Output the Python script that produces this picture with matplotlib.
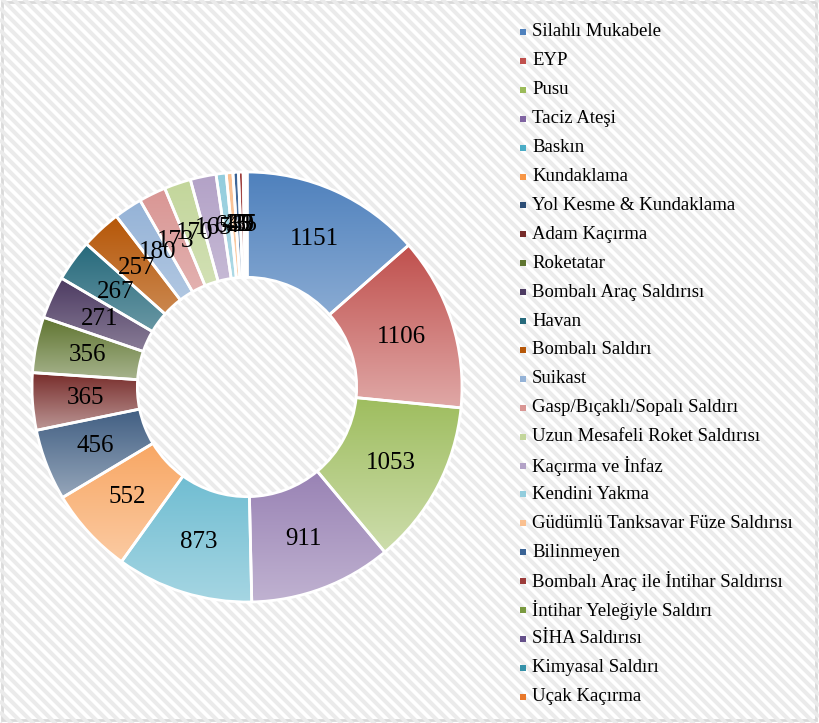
import numpy as np
import matplotlib.pyplot as plt
from matplotlib.patches import Rectangle
from matplotlib.colors import to_rgb

plt.rcParams['font.family'] = ['Liberation Serif', 'DejaVu Serif']

categories = [
    'Silahlı Mukabele', 'EYP', 'Pusu', 'Taciz Ateşi', 'Baskın', 'Kundaklama',
    'Yol Kesme & Kundaklama', 'Adam Kaçırma', 'Roketatar', 'Bombalı Araç Saldırısı',
    'Havan', 'Bombalı Saldırı', 'Suikast', 'Gasp/Bıçaklı/Sopalı Saldırı',
    'Uzun Mesafeli Roket Saldırısı', 'Kaçırma ve İnfaz', 'Kendini Yakma',
    'Güdümlü Tanksavar Füze Saldırısı', 'Bilinmeyen', 'Bombalı Araç ile İntihar Saldırısı',
    'İntihar Yeleğiyle Saldırı', 'SİHA Saldırısı', 'Kimyasal Saldırı', 'Uçak Kaçırma',
]
values = [1151, 1106, 1053, 911, 873, 552, 456, 365, 356, 271, 267, 257,
          180, 173, 170, 165, 64, 43, 35, 30, 15, 5, 3, 1]
colors = [
    '#4F81BD', '#C0504D', '#9BBB59', '#8064A2', '#4BACC6', '#F79646',
    '#2C4D75', '#772C2A', '#5F7530', '#4D3B62', '#276A7C', '#B65708',
    '#95B3D7', '#D99694', '#C3D69B', '#B3A2C7', '#93CDDD', '#FAC090',
    '#3A6395', '#9C3C3A', '#7A9A40', '#65508A', '#3591A9', '#E8782B',
]

W, H = 819, 723
fig = plt.figure(figsize=(W / 100, H / 100), dpi=100)
fig.patch.set_facecolor('white')

# striped background (pixel coordinates) and thin frame
bg = fig.add_axes([0, 0, 1, 1], zorder=-10)
bg.set_xlim(0, W)
bg.set_ylim(0, H)
bg.axis('off')
xs = np.array([0, W])
for c in np.arange(0, W + H, 11):
    bg.plot(xs, c - xs, color='#ebebeb', lw=2.9, solid_capstyle='butt')
bg.add_patch(Rectangle((2, 3), 814, 718, fill=False, edgecolor='#d9d9d9', linewidth=2))

cx, cy, R = 247, 387, 215
ax = fig.add_axes([(cx - R) / W, (H - cy - R) / H, 2 * R / W, 2 * R / H])
ax.set_facecolor('none')

wedges, _ = ax.pie(values, startangle=90, counterclock=False, radius=1,
                   wedgeprops=dict(width=0.49, edgecolor='white', linewidth=2))

for w, c in zip(wedges, colors):
    verts = w.get_patch_transform().transform(w.get_path().vertices)
    x0, y0 = verts.min(axis=0)
    x1, y1 = verts.max(axis=0)
    base = np.array(to_rgb(c))
    light = base + (1 - base) * 0.5
    t = np.linspace(0, 1, 64)[:, None]
    grad = (base * (1 - t) + light * t)[:, None, :]
    im = ax.imshow(grad, extent=(x0, x1, y0, y1), origin='upper', aspect='auto',
                   interpolation='bilinear', zorder=1)
    im.set_clip_path(w)
    w.set_facecolor('none')
    w.set_zorder(2)

# value labels in the middle of the ring
for w, v in zip(wedges, values):
    ang = np.deg2rad((w.theta1 + w.theta2) / 2)
    r = 0.755
    ax.text(r * np.cos(ang), r * np.sin(ang), str(v), ha='center', va='center',
            fontsize=18, color='black', zorder=3)

ax.set_xlim(-1, 1)
ax.set_ylim(-1, 1)
ax.set_aspect('equal')
ax.axis('off')

# legend column
y_top, step = 32, 28.9
for i, (name, c) in enumerate(zip(categories, colors)):
    y = H - (y_top + i * step)
    fig.patches.append(Rectangle(((523 - 3) / W, (y - 3) / H), 6 / W, 6 / H,
                                 transform=fig.transFigure, facecolor=c, edgecolor='none'))
    fig.text(532 / W, y / H, name, ha='left', va='center', fontsize=13.5, color='black')

fig.savefig('out.png', dpi=100)
